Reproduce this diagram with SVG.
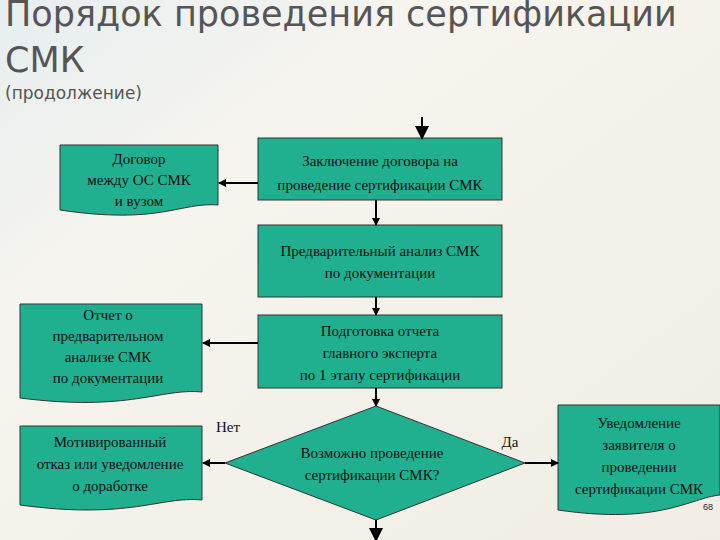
<svg xmlns="http://www.w3.org/2000/svg" width="720" height="540" viewBox="0 0 720 540">
<defs>
<marker id="ah" markerWidth="8" markerHeight="8" refX="7" refY="4" orient="auto" markerUnits="userSpaceOnUse"><path d="M0,0 L8,4 L0,8 z" fill="#000"/></marker>
<marker id="big" markerWidth="14" markerHeight="14" refX="12" refY="7" orient="auto" markerUnits="userSpaceOnUse"><path d="M0,0 L14,7 L0,14 z" fill="#000"/></marker>
<linearGradient id="bg" x1="0" y1="0" x2="1" y2="1"><stop offset="0" stop-color="#e6eef0"/><stop offset="0.3" stop-color="#f6f4ee"/><stop offset="1" stop-color="#f1ede4"/></linearGradient>
</defs>
<style>
.n{fill:#20b08f;stroke:#333;stroke-width:1}
.t{font-family:"Liberation Serif",serif;font-size:15px;fill:#111;text-anchor:middle}
.c{stroke:#000;stroke-width:2;fill:none}
.h{font-family:"DejaVu Sans",sans-serif;fill:#555}
</style>
<rect width="720" height="540" fill="url(#bg)"/>
<text class="h" x="5" y="26" font-size="35">Порядок проведения сертификации</text>
<text class="h" x="5" y="72" font-size="35">СМК</text>
<text class="h" x="5" y="99" font-size="17">(продолжение)</text>
<g id="n1"><rect class="n" x="258" y="138" width="244" height="62"/><text class="t" x="380" y="166">Заключение договора на</text><text class="t" x="380" y="190">проведение сертификации СМК</text></g>
<g id="n2"><path class="n" d="M60,145 H218 V205 C180,202 160,225 60,210 Z"/><text class="t" x="139" y="164">Договор</text><text class="t" x="139" y="185">между ОС СМК</text><text class="t" x="139" y="206">и вузом</text></g>
<g id="n3"><rect class="n" x="258" y="225" width="244" height="72"/><text class="t" x="380" y="256">Предварительный анализ СМК</text><text class="t" x="380" y="278">по документации</text></g>
<g id="n4"><rect class="n" x="258" y="315" width="244" height="73"/><text class="t" x="380" y="336">Подготовка отчета</text><text class="t" x="380" y="358">главного эксперта</text><text class="t" x="380" y="380">по 1 этапу сертификации</text></g>
<g id="n5"><path class="n" d="M20,304 H202 V392 C160,388 130,412 20,398 Z"/><text class="t" x="108" y="320">Отчет о</text><text class="t" x="108" y="341">предварительном</text><text class="t" x="108" y="362">анализе СМК</text><text class="t" x="108" y="383">по документации</text></g>
<g id="n6"><path class="n" d="M376,406 L525,463 L376,520 L225,463 Z"/><text class="t" x="372" y="458">Возможно проведение</text><text class="t" x="372" y="480">сертификации СМК?</text></g>
<g id="n7"><path class="n" d="M20,426 H202 V500 C160,496 130,520 20,505 Z"/><text class="t" x="110" y="447">Мотивированный</text><text class="t" x="110" y="469">отказ или уведомление</text><text class="t" x="110" y="491">о доработке</text></g>
<g id="n8"><path class="n" d="M558,405 H720 V495 C690,498 660,525 558,510 Z"/><text class="t" x="639" y="428">Уведомление</text><text class="t" x="639" y="450">заявителя о</text><text class="t" x="639" y="472">проведении</text><text class="t" x="639" y="494">сертификации СМК</text></g>
<g id="connectors">
<line class="c" x1="422" y1="117" x2="422" y2="138" stroke-width="4" marker-end="url(#big)"/>
<line class="c" x1="258" y1="183" x2="219" y2="183" stroke-width="3" marker-end="url(#ah)"/>
<line class="c" x1="376" y1="200" x2="376" y2="225" marker-end="url(#ah)"/>
<line class="c" x1="376" y1="297" x2="376" y2="315" marker-end="url(#ah)"/>
<line class="c" x1="258" y1="343" x2="203" y2="343" marker-end="url(#ah)"/>
<line class="c" x1="376" y1="388" x2="376" y2="406" marker-end="url(#ah)"/>
<line class="c" x1="225" y1="463" x2="203" y2="463" stroke-width="3" marker-end="url(#ah)"/>
<line class="c" x1="525" y1="463" x2="558" y2="463" stroke-width="3" marker-end="url(#ah)"/>
<line class="c" x1="376" y1="520" x2="376" y2="540" stroke-width="4" marker-end="url(#big)"/>
</g>
<text class="t" x="228" y="432">Нет</text>
<text class="t" x="510" y="447">Да</text>
<text x="703" y="510" font-family="Liberation Sans,sans-serif" font-size="9" fill="#222">68</text>
</svg>
